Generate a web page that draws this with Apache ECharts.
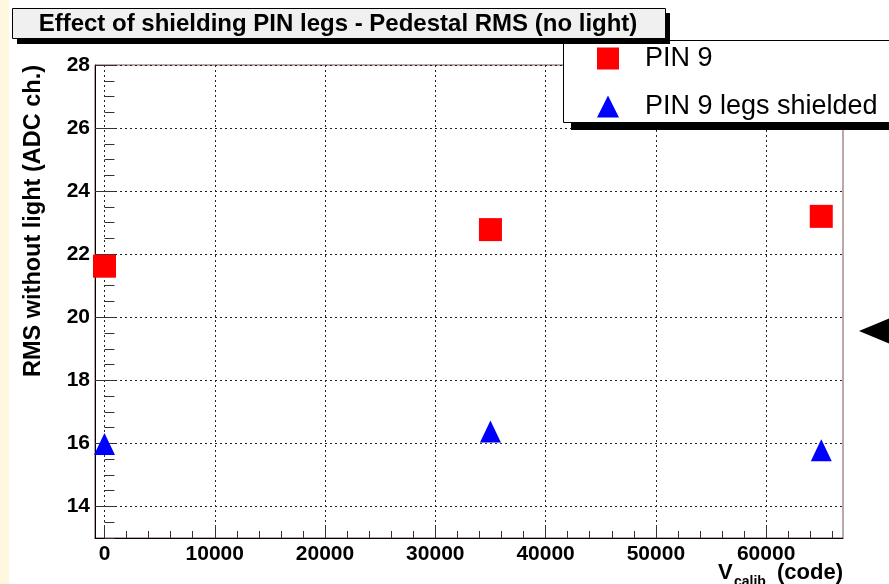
<!DOCTYPE html>
<html>
<head>
<meta charset="utf-8">
<script src="https://cdn.jsdelivr.net/npm/echarts@6/dist/echarts.min.js"></script>
<style>html,body{margin:0;padding:0;background:#fff;}#c{width:889px;height:584px;}</style>
</head>
<body>
<div id="c"></div>
<script>
// ---- data ----
const seriesNames = ['PIN 9', 'PIN 9 legs shielded'];
const vcalib = [0, 35000, 65000];
const pin9 = [21.62, 22.78, 23.2];
const pin9Shielded = [15.98, 16.38, 15.78];
const xTicks = [0, 10000, 20000, 30000, 40000, 50000, 60000];
const xMinorTicks = [2000, 4000, 6000, 8000, 12000, 14000, 16000, 18000, 22000, 24000, 26000, 28000,
  32000, 34000, 36000, 38000, 42000, 44000, 46000, 48000, 52000, 54000, 56000, 58000, 62000, 64000, 66000];
const yTicks = [14, 16, 18, 20, 22, 24, 26, 28];
const yMinorTicks = [13, 13.5, 14.5, 15, 15.5, 16.5, 17, 17.5, 18.5, 19, 19.5, 20.5, 21, 21.5, 22.5, 23, 23.5,
  24.5, 25, 25.5, 26.5, 27, 27.5];
const titleText = 'Effect of shielding PIN legs - Pedestal RMS (no light)';
const yTitle = 'RMS without light (ADC ch.)';

const FONT = '"Liberation Sans", Arial, Helvetica, sans-serif';
const chart = echarts.init(document.getElementById('c'), null, {renderer: 'canvas'});

const xRange = {min: -860, max: 66970};
const yRange = {min: 13, max: 28};

const option = {
  animation: false,
  backgroundColor: '#ffffff',
  grid: {left: 95, right: 46, top: 65, bottom: 46, show: true, borderColor: '#7a4f4f', borderWidth: 1, backgroundColor: '#fff'},
  xAxis: [{
    type: 'value', min: xRange.min, max: xRange.max,
    axisLine: {show: true, onZero: false, lineStyle: {color: '#000', width: 1}},
    axisTick: {show: true, inside: true, length: 13, customValues: xTicks, lineStyle: {color: '#333'}},
    axisLabel: {customValues: xTicks, margin: 6, fontFamily: FONT, fontWeight: 'bold', fontSize: 21, color: '#000',
      formatter: v => String(Math.round(v))},
    splitLine: {show: true, lineStyle: {color: '#222', type: [2, 3], width: 1}}
  }, {
    type: 'value', min: xRange.min, max: xRange.max, position: 'bottom',
    axisLine: {show: false},
    axisTick: {show: true, inside: true, length: 7, customValues: xMinorTicks, lineStyle: {color: '#333'}},
    axisLabel: {show: false},
    splitLine: {show: false}
  }],
  yAxis: [{
    type: 'value', min: yRange.min, max: yRange.max,
    axisLine: {show: true, onZero: false, lineStyle: {color: '#000', width: 1}},
    axisTick: {show: true, inside: true, length: 20, customValues: yTicks, lineStyle: {color: '#333'}},
    axisLabel: {customValues: yTicks, margin: 5, fontFamily: FONT, fontWeight: 'bold', fontSize: 21, color: '#000'},
    splitLine: {show: true, lineStyle: {color: '#222', type: [2, 3], width: 1}}
  }, {
    type: 'value', min: yRange.min, max: yRange.max, position: 'left',
    axisLine: {show: false},
    axisTick: {show: true, inside: true, length: 10, customValues: yMinorTicks, lineStyle: {color: '#333'}},
    axisLabel: {show: false},
    splitLine: {show: false}
  }],
  legend: {
    orient: 'vertical', left: 592, top: 40, z: 30,
    itemWidth: 22, itemHeight: 22, itemGap: 21,
    data: [{name: seriesNames[0], icon: 'rect'}, {name: seriesNames[1], icon: 'triangle'}],
    textStyle: {fontFamily: FONT, fontSize: 27, color: '#000', padding: [0, 0, 0, 21]},
    selectedMode: false
  },
  series: [{
    name: seriesNames[0], type: 'scatter', xAxisIndex: 0, yAxisIndex: 0,
    symbol: 'rect', symbolSize: 23, itemStyle: {color: '#ff0000', opacity: 1},
    data: vcalib.map((x, i) => [x, pin9[i]])
  }, {
    name: seriesNames[1], type: 'scatter', xAxisIndex: 0, yAxisIndex: 0,
    symbol: 'triangle', symbolSize: [21, 22], itemStyle: {color: '#0000ff', opacity: 1},
    data: vcalib.map((x, i) => [x, pin9Shielded[i]])
  }],
  graphic: [
    {type: 'rect', z: 1, silent: true, shape: {x: 0, y: 0, width: 9, height: 584}, style: {fill: '#fff7de'}},
    // legend box
    {type: 'rect', z: 20, silent: true, shape: {x: 571, y: 48, width: 340, height: 82}, style: {fill: '#000'}},
    {type: 'rect', z: 21, silent: true, shape: {x: 563.5, y: 40.5, width: 340, height: 82}, style: {fill: '#fff', stroke: '#000', lineWidth: 1}},
    // title box
    {type: 'rect', z: 22, silent: true, shape: {x: 17, y: 13, width: 653, height: 31}, style: {fill: '#000'}},
    {type: 'rect', z: 23, silent: true, shape: {x: 12.5, y: 8.5, width: 653, height: 30}, style: {fill: '#f0f0f0', stroke: '#000', lineWidth: 1}},
    {type: 'text', z: 24, silent: true, style: {text: titleText, x: 338, y: 24, textAlign: 'center', textVerticalAlign: 'middle',
      font: 'bold 24px ' + FONT, fill: '#000'}},
    // y axis title
    {type: 'text', z: 24, silent: true, x: 34, y: 221, rotation: Math.PI / 2,
      style: {text: yTitle, x: 0, y: 0, textAlign: 'center', textVerticalAlign: 'middle', font: 'bold 23.5px ' + FONT, fill: '#000'}},
    // x axis title
    {type: 'text', z: 24, silent: true, style: {text: 'V', x: 718, y: 573, textAlign: 'left', textVerticalAlign: 'middle', font: 'bold 22px ' + FONT, fill: '#000'}},
    {type: 'text', z: 24, silent: true, style: {text: 'calib', x: 734, y: 582, textAlign: 'left', textVerticalAlign: 'middle', font: 'bold 14px ' + FONT, fill: '#000'}},
    {type: 'text', z: 24, silent: true, style: {text: '(code)', x: 843, y: 573, textAlign: 'right', textVerticalAlign: 'middle', font: 'bold 22px ' + FONT, fill: '#000'}},
    // arrow at right edge
    {type: 'polygon', z: 24, silent: true, shape: {points: [[859, 331], [895, 316], [895, 346]]}, style: {fill: '#000'}}
  ]
};
chart.setOption(option);
</script>
</body>
</html>
